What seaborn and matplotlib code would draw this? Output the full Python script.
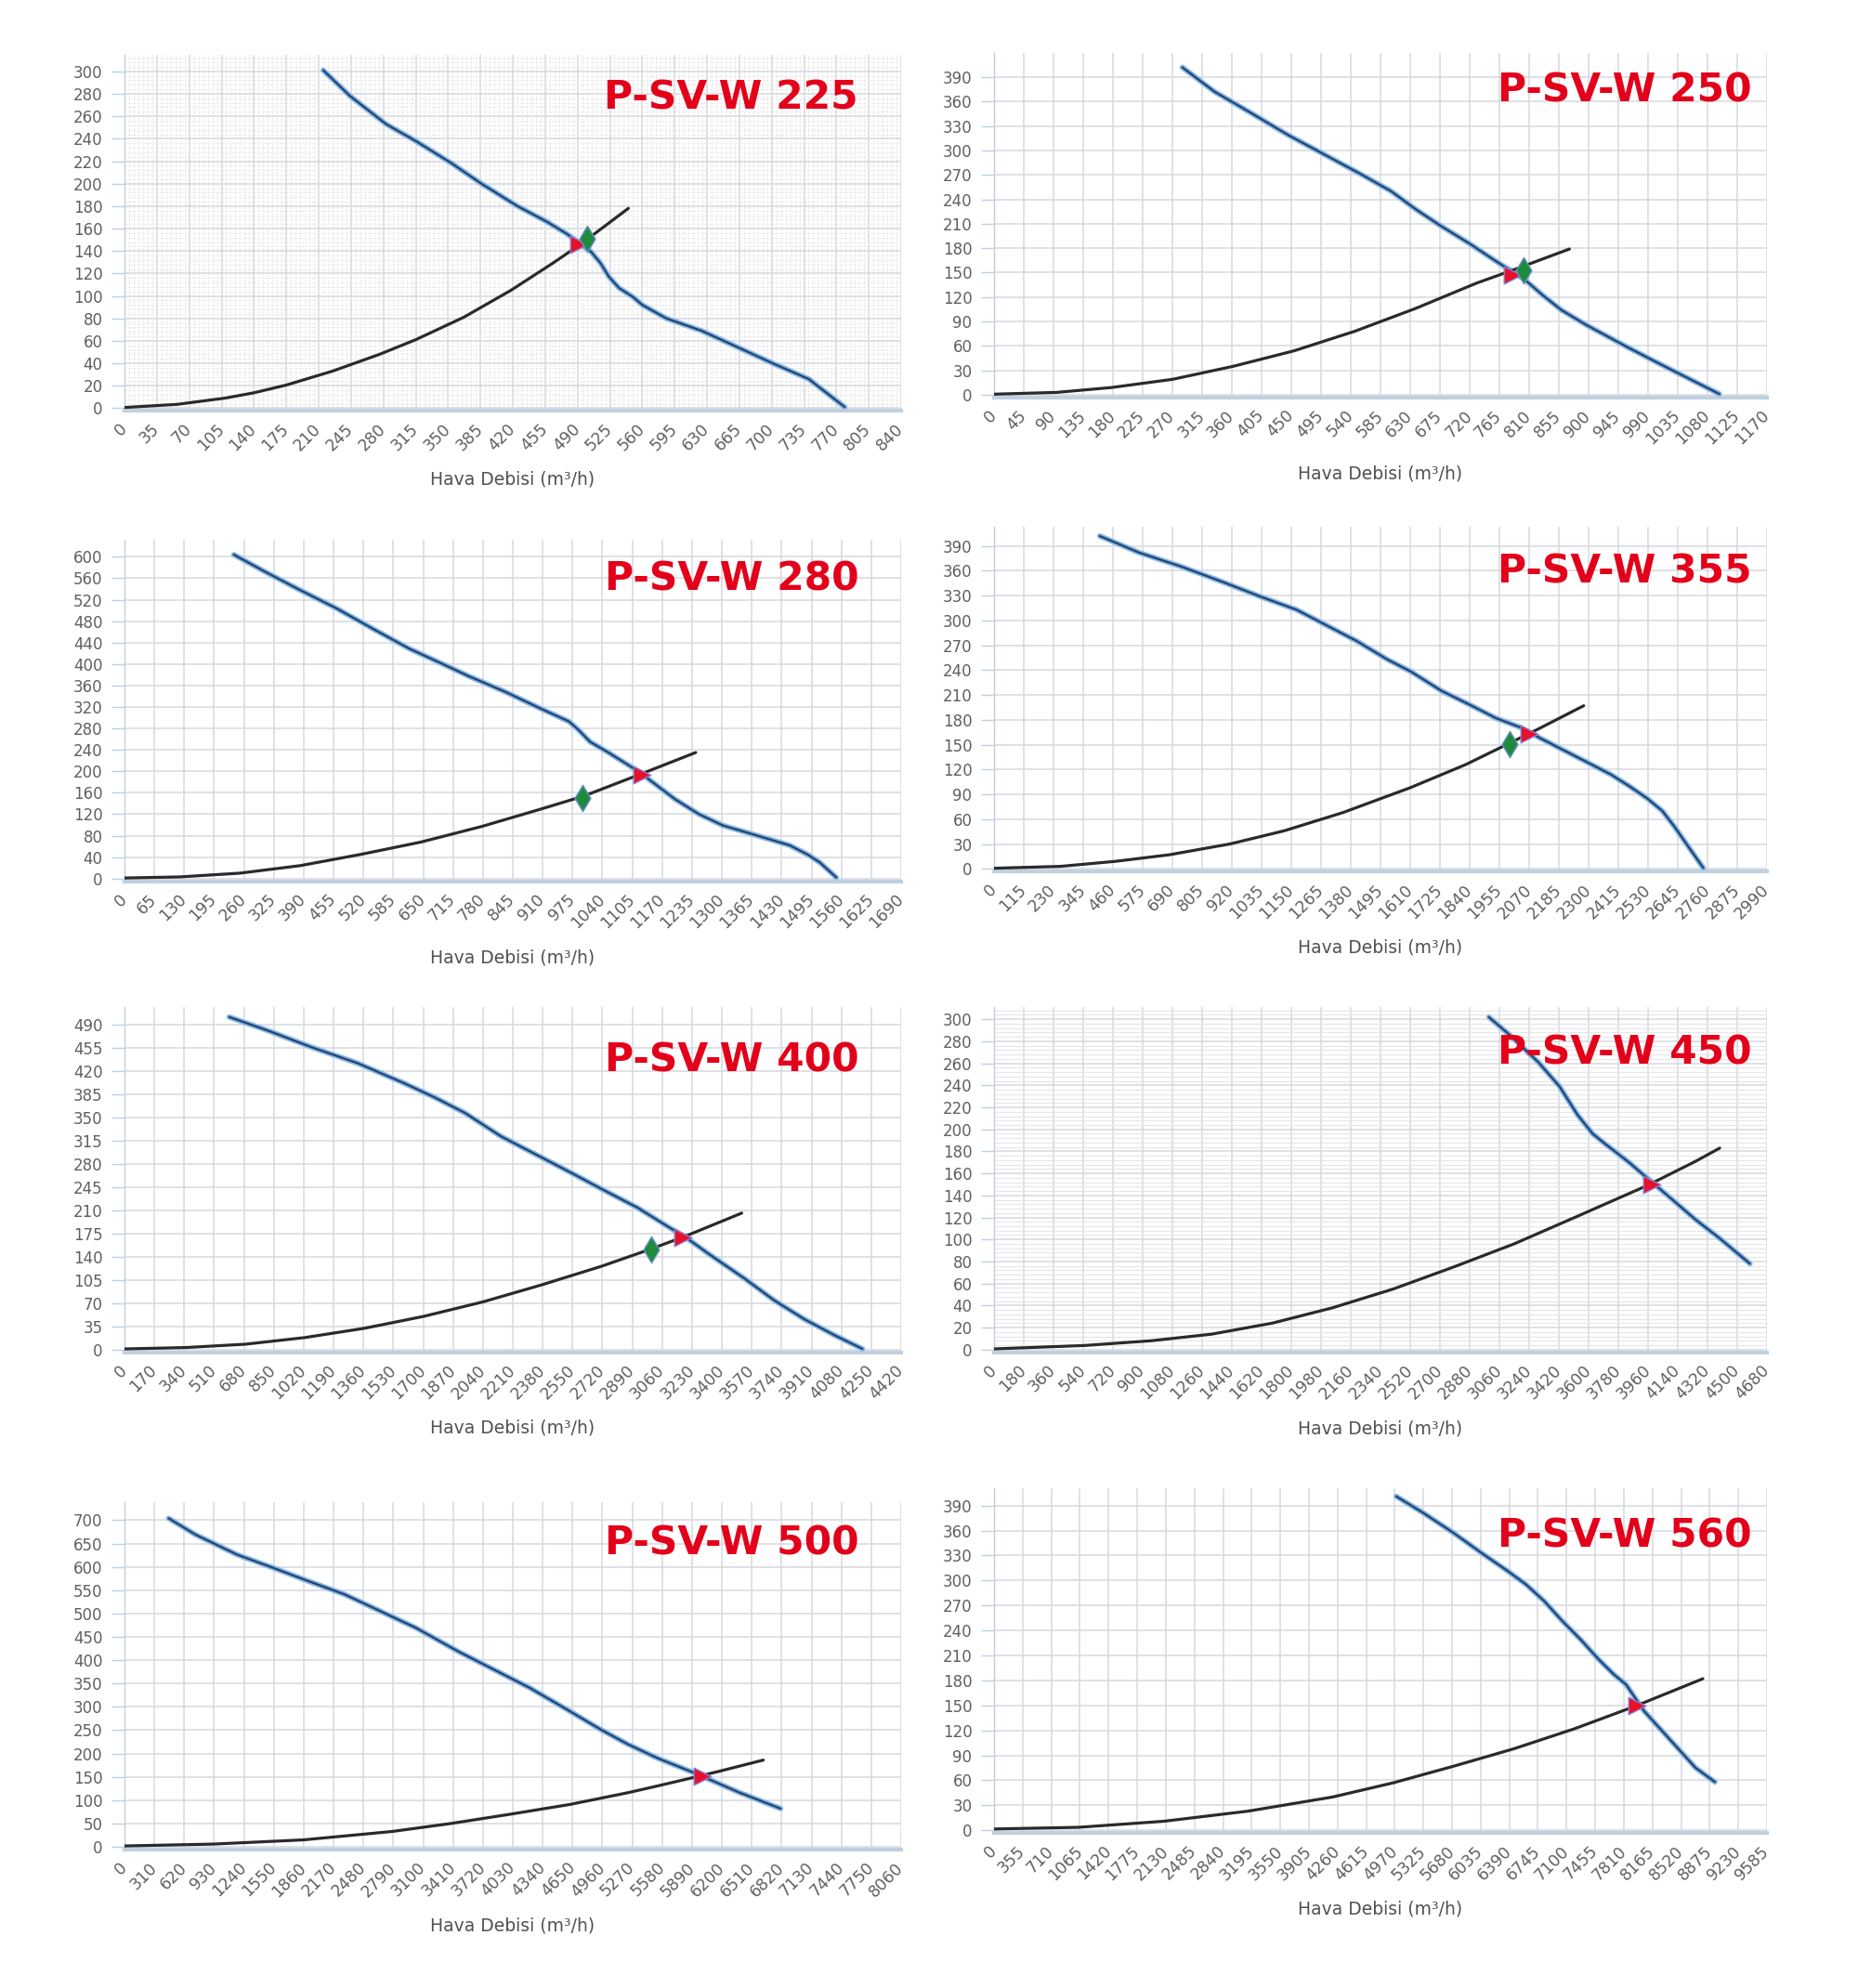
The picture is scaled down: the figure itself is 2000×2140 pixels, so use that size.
import numpy as np
import pandas as pd
import matplotlib
matplotlib.use("Agg")
import matplotlib.pyplot as plt
import seaborn as sns
from matplotlib.ticker import MultipleLocator

sns.set_style("white")
plt.rcParams["font.family"] = ["DejaVu Sans"]

# ---------------- data ----------------
models = ["P-SV-W 225", "P-SV-W 250", "P-SV-W 280", "P-SV-W 355",
          "P-SV-W 400", "P-SV-W 450", "P-SV-W 500", "P-SV-W 560"]

# P-SV-W 225
fan225_q = [215, 244, 283, 315, 354, 386, 425, 457, 479, 492, 505, 515, 524, 535, 550, 560, 586, 624, 656, 701, 740, 779]
fan225_p = [301, 278, 253, 238, 218, 200, 180, 166, 155, 147, 139, 129, 117, 107, 99, 92, 80, 69, 57, 40, 26, 1]
sys225_q = [0, 57, 109, 140, 175, 225, 276, 315, 367, 418, 463, 495, 545]
sys225_p = [0.6, 3.4, 9, 13.7, 20.6, 33, 48, 61, 81, 105, 129, 147, 178]
op225_red = (491, 146)
op225_green = (500, 151)

# P-SV-W 250
fan250_q = [285, 334, 389, 445, 500, 555, 601, 638, 675, 721, 758, 785, 804, 831, 859, 896, 960, 1015, 1098]
fan250_p = [402, 372, 346, 319, 295, 271, 250, 228, 208, 185, 165, 151, 141, 122, 104, 86, 58, 35, 1]
sys250_q = [0, 95, 178, 270, 362, 454, 546, 638, 730, 785, 871]
sys250_p = [0.8, 3, 9, 19, 35, 54, 78, 106, 137, 153, 179]
op250_red = (785, 147)
op250_green = (802, 153)

# P-SV-W 280
fan280_q = [238, 304, 382, 461, 540, 619, 685, 750, 829, 908, 967, 987, 1013, 1053, 1118, 1158, 1198, 1250, 1302, 1381, 1447, 1486, 1513, 1549]
fan280_p = [604, 573, 538, 504, 466, 429, 403, 377, 348, 316, 293, 278, 255, 235, 200, 174, 148, 120, 99, 79, 62, 45, 30, 2]
sys280_q = [0, 120, 251, 382, 514, 645, 777, 908, 1000, 1118, 1243]
sys280_p = [1, 3, 10, 24, 45, 68, 97, 130, 154, 193, 235]
op280_red = (1125, 194)
op280_green = (997, 151)

# P-SV-W 355
fan355_q = [409, 561, 725, 889, 1029, 1170, 1287, 1404, 1521, 1614, 1731, 1848, 1942, 2035, 2106, 2199, 2293, 2386, 2457, 2527, 2585, 2632, 2690, 2744]
fan355_p = [402, 382, 365, 346, 329, 313, 294, 275, 253, 238, 215, 197, 182, 171, 159, 144, 129, 114, 100, 85, 70, 51, 25, 1]
sys355_q = [0, 257, 468, 678, 912, 1123, 1350, 1610, 1825, 1989, 2106, 2281]
sys355_p = [0.7, 3, 9, 17, 30, 46, 68, 98, 126, 151, 169, 197]
op355_red = (2071, 163)
op355_green = (1996, 151)

# P-SV-W 400
fan400_q = [596, 822, 1059, 1330, 1601, 1770, 1939, 2142, 2345, 2548, 2718, 2921, 3090, 3191, 3327, 3530, 3699, 3868, 4038, 4200]
fan400_p = [502, 481, 457, 432, 401, 380, 357, 322, 294, 266, 242, 214, 186, 170, 144, 107, 74, 46, 22, 1]
sys400_q = [0, 349, 687, 1025, 1364, 1702, 2041, 2379, 2718, 2988, 3191, 3513]
sys400_p = [0.9, 3, 8, 18, 32, 50, 72, 98, 126, 151, 171, 206]
op400_red = (3175, 170)
op400_green = (2999, 151)

# P-SV-W 450
fan450_q = [2996, 3113, 3296, 3424, 3534, 3625, 3699, 3845, 3992, 4101, 4248, 4394, 4577]
fan450_p = [302, 287, 261, 239, 213, 196, 187, 170, 151, 137, 118, 101, 78]
sys450_q = [0, 549, 952, 1318, 1685, 2051, 2417, 2783, 3149, 3516, 3955, 4248, 4394]
sys450_p = [0.6, 3.7, 8, 14, 24, 38, 55, 75, 96, 120, 149, 171, 183]
op450_red = (3984, 150)

# P-SV-W 500
fan500_q = [458, 737, 1170, 1541, 1913, 2284, 2656, 3027, 3461, 3832, 4203, 4603, 4946, 5223, 5533, 5932, 6375, 6809]
fan500_p = [704, 669, 626, 598, 569, 541, 505, 469, 419, 380, 341, 293, 251, 220, 190, 157, 117, 82]
sys500_q = [0, 926, 1856, 2778, 3384, 4005, 4625, 5223, 5542, 5932, 6153, 6630]
sys500_p = [2, 6, 15, 33, 50, 70, 91, 116, 131, 150, 161, 186]
op500_red = (6000, 152)

# P-SV-W 560
fan560_q = [4988, 5325, 5700, 6075, 6375, 6600, 6825, 7050, 7275, 7500, 7688, 7838, 7950, 8063, 8250, 8475, 8700, 8940]
fan560_p = [401, 381, 357, 331, 311, 295, 275, 251, 229, 205, 187, 175, 159, 143, 123, 99, 75, 58]
sys560_q = [0, 1050, 2100, 3150, 4200, 4950, 5700, 6450, 7200, 7950, 8790]
sys560_p = [1.6, 3.6, 10.8, 23, 40, 57, 77, 98, 122, 149, 182]
op560_red = (7973, 150)

# axis ticks: (x step, x max, y step, y max tick)
x_steps = [35, 45, 65, 115, 170, 180, 310, 355]
x_maxes = [840, 1170, 1690, 2990, 4420, 4680, 8060, 9585]
y_steps = [20, 30, 40, 30, 35, 20, 50, 30]
y_maxes = [300, 390, 600, 390, 490, 300, 700, 390]

fans = [(fan225_q, fan225_p), (fan250_q, fan250_p), (fan280_q, fan280_p), (fan355_q, fan355_p),
        (fan400_q, fan400_p), (fan450_q, fan450_p), (fan500_q, fan500_p), (fan560_q, fan560_p)]
systems = [(sys225_q, sys225_p), (sys250_q, sys250_p), (sys280_q, sys280_p), (sys355_q, sys355_p),
           (sys400_q, sys400_p), (sys450_q, sys450_p), (sys500_q, sys500_p), (sys560_q, sys560_p)]
reds = [op225_red, op250_red, op280_red, op355_red, op400_red, op450_red, op500_red, op560_red]
greens = [op225_green, op250_green, op280_green, op355_green, op400_green, None, None, None]

# ---------------- layout (pixels) ----------------
W, H = 2000, 2140
fig = plt.figure(figsize=(W / 100, H / 100), dpi=100)

# left, right, top, bottom (px), ylim top, ylim bottom
boxes = [
    (134, 970, 58.7, 442.4, 315, -2.5),
    (1070, 1902, 56.7, 428.0, 420, -3.4),
    (134, 970, 580.9, 948.7, 632, -5.2),
    (1070, 1902, 567.2, 938.3, 413, -3.4),
    (134, 970, 1084.1, 1455.7, 517, -4.2),
    (1070, 1902, 1084.2, 1455.7, 311, -2.5),
    (134, 970, 1617.3, 1991.1, 738, -6.0),
    (1070, 1902, 1601.8, 1973.2, 411, -3.3),
]
title_pos = [(650, 118), (1612, 110), (651, 636), (1612, 627),
             (651, 1154), (1612, 1146), (651, 1674), (1612, 1666)]

AX_BLUE = "#C0D0E0"
GRID = "#D6D8DE"

for i in range(8):
    l, r, t, b, ytop, ybot = boxes[i]
    ax = fig.add_axes([l / W, 1 - b / H, (r - l) / W, (b - t) / H])
    ax.set_xlim(0, x_maxes[i])
    ax.set_ylim(ybot, ytop)
    ax.set_axisbelow(True)

    # minor grids
    if i == 0:
        ax.xaxis.set_minor_locator(MultipleLocator(5))
        ax.yaxis.set_minor_locator(MultipleLocator(4))
        ax.grid(which="minor", axis="both", color="#E6E6E6", linewidth=0.7, linestyle=(0, (2, 1.5)))
    if i == 5:
        ax.yaxis.set_minor_locator(MultipleLocator(4))
        ax.grid(which="minor", axis="y", color="#E6E6EA", linewidth=0.8)
    ax.tick_params(which="minor", length=0)

    ax.grid(which="major", axis="both", color=GRID, linewidth=1.1)

    fq, fp = fans[i]
    sq, sp = systems[i]
    fan_df = pd.DataFrame({"q": fq, "p": fp})
    sys_df = pd.DataFrame({"q": sq, "p": sp})
    sns.lineplot(data=fan_df, x="q", y="p", ax=ax, color="#86B4E4", linewidth=4.2,
                 estimator=None, sort=False, zorder=3)
    sns.lineplot(data=fan_df, x="q", y="p", ax=ax, color="#1F4470", linewidth=1.6,
                 estimator=None, sort=False, zorder=4)
    sns.lineplot(data=sys_df, x="q", y="p", ax=ax, color="#2A2A2A", linewidth=2.3,
                 estimator=None, sort=False, zorder=4)

    rq, rp = reds[i]
    sns.scatterplot(x=[rq], y=[rp], ax=ax, marker=">", s=180, color="#E8102A",
                    edgecolor="#8A7FD0", linewidth=1.0, zorder=6)
    if greens[i] is not None:
        gq, gp = greens[i]
        sns.scatterplot(x=[gq], y=[gp], ax=ax, marker="d", s=210, color="#1E8B3C",
                        edgecolor="#6F8FD0", linewidth=1.0, zorder=7)

    ax.set_xticks(np.arange(0, x_maxes[i] + 1, x_steps[i]))
    ax.set_yticks(np.arange(0, y_maxes[i] + 1, y_steps[i]))
    ax.tick_params(axis="x", which="major", length=0, pad=12, labelsize=12.5, labelcolor="#606060")
    ax.tick_params(axis="y", which="major", length=10, width=1.0, color=AX_BLUE, pad=7,
                   labelsize=12, labelcolor="#606060", left=True)
    for lab in ax.get_xticklabels():
        lab.set_rotation(45)
        lab.set_ha("right")
        lab.set_va("center")
        lab.set_rotation_mode("anchor")

    for s in ["top", "right"]:
        ax.spines[s].set_visible(False)
    ax.spines["bottom"].set_color(AX_BLUE)
    ax.spines["bottom"].set_linewidth(3.0)
    ax.spines["left"].set_color(AX_BLUE)
    ax.spines["left"].set_linewidth(1.0)

    ax.set_xlabel("Hava Debisi (m³/h)", fontsize=13.5, color="#505050", labelpad=13)
    ax.set_ylabel("")
    legend = ax.get_legend()
    if legend is not None:
        legend.remove()

    tx, ty = title_pos[i]
    fig.text(tx / W, 1 - ty / H, models[i], fontsize=30.5, fontweight="bold",
             color="#E2001A", ha="left", va="baseline", zorder=10)

fig.savefig("out.png", dpi=100, facecolor="white")
